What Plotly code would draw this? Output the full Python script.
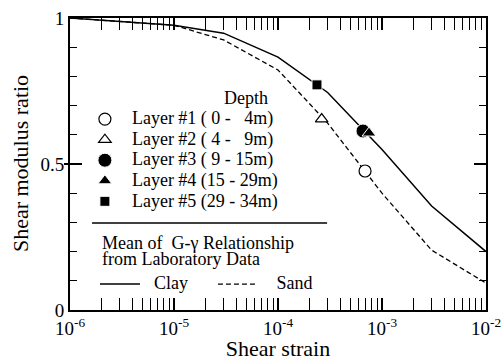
import plotly.graph_objects as go

# Mean G-gamma curves (laboratory data)
strain_pts = [1e-6, 1e-5, 3e-5, 1e-4, 3e-4, 1e-3, 3e-3, 1e-2]
clay_ratio = [1.0, 0.975, 0.948, 0.866, 0.745, 0.55, 0.356, 0.20]
sand_ratio = [1.0, 0.975, 0.925, 0.822, 0.64, 0.40, 0.205, 0.092]

# Layer data points
layer_names = ["Layer #1 (\u00a00 - \u00a0\u00a04m)",
               "Layer #2 (\u00a04 - \u00a0\u00a09m)",
               "Layer #3 (\u00a09 - 15m)",
               "Layer #4 (15 - 29m)",
               "Layer #5 (29 - 34m)"]
layer_strain = [6.87e-4, 2.63e-4, 6.56e-4, 7.5e-4, 2.37e-4]
layer_ratio = [0.476, 0.654, 0.613, 0.606, 0.771]

# tick labels
x_tickvals = [1e-6, 1e-5, 1e-4, 1e-3, 1e-2]
x_ticktext = ["10<sup>-6</sup>", "10<sup>-5</sup>", "10<sup>-4</sup>", "10<sup>-3</sup>", "10<sup>-2</sup>"]
y_tickvals = [0, 0.5, 1]
y_ticktext = ["0", "0.5", "1"]

FONT = "Liberation Serif, Times New Roman, serif"
BIG = 18

def big(t):
    return '<span style="font-size:%dpx">%s</span>' % (BIG, t)

fig = go.Figure()

fig.add_trace(go.Scatter(x=strain_pts, y=clay_ratio, mode="lines",
                         line=dict(color="black", width=1.5),
                         name=big("\u00a0\u00a0Clay"), legend="legend2"))
fig.add_trace(go.Scatter(x=strain_pts, y=sand_ratio, mode="lines",
                         line=dict(color="black", width=1.3, dash="5px,3px"),
                         name=big("\u00a0\u00a0\u00a0Sand"), legend="legend2"))

marker_styles = [
    dict(symbol="circle", size=12, color="white", line=dict(color="black", width=1.2)),
    dict(symbol="triangle-up", size=11, color="white", line=dict(color="black", width=1.2)),
    dict(symbol="circle", size=14, color="black", line=dict(color="white", width=1)),
    dict(symbol="triangle-up", size=12, color="black", line=dict(color="white", width=1)),
    dict(symbol="square", size=10, color="black", line=dict(color="white", width=1)),
]
for i in range(5):
    fig.add_trace(go.Scatter(x=[layer_strain[i]], y=[layer_ratio[i]], mode="markers",
                             marker=marker_styles[i], name=big(layer_names[i]),
                             legend="legend"))

# hidden helper trace for left outside stub axis
fig.add_trace(go.Scatter(x=[1e-6], y=[0.5], yaxis="y3", mode="markers",
                         marker=dict(opacity=0), showlegend=False, hoverinfo="skip"))

fig.update_layout(
    width=501, height=361,
    margin=dict(l=70, r=15, t=18, b=51),
    paper_bgcolor="white", plot_bgcolor="white",
    font=dict(family=FONT, color="black", size=19),
    xaxis=dict(type="log", range=[-6.00001, -1.99999], tickvals=x_tickvals, ticktext=x_ticktext,
               ticks="inside", ticklen=12, tickwidth=1.5, tickcolor="black",
               showline=True, linewidth=2, linecolor="black", mirror="allticks",
               showgrid=False, zeroline=False, automargin=False, ticklabeloverflow="allow",
               minor=dict(dtick="D1", ticks="inside", ticklen=6, tickwidth=1.2, tickcolor="black", showgrid=False),
               tickfont=dict(size=19, family=FONT),
               title=dict(text="Shear strain", font=dict(size=22, family=FONT))),
    yaxis=dict(range=[0, 1], tickvals=y_tickvals, ticktext=y_ticktext,
               ticks="inside", ticklen=12, tickwidth=1.5, tickcolor="black",
               showline=True, linewidth=2, linecolor="black", mirror="allticks",
               showgrid=False, zeroline=False, automargin=False,
               minor=dict(dtick=0.1, ticks="inside", ticklen=7, tickwidth=1.2, tickcolor="black", showgrid=False),
               tickfont=dict(size=19, family=FONT)),
    yaxis3=dict(overlaying="y", anchor="x", side="left", range=[0, 1], tickvals=[0.5],
                ticks="outside", ticklen=5, tickwidth=1.5, tickcolor="black", automargin=False,
                showticklabels=False, showline=False, showgrid=False, zeroline=False),
    legend=dict(x=0.019, y=0.706, xanchor="left", yanchor="top", font=dict(size=13.5, family=FONT),
                bgcolor="rgba(0,0,0,0)", itemwidth=44, tracegroupgap=0, traceorder="normal"),
    legend2=dict(x=0.06, y=0.14, xanchor="left", yanchor="top", orientation="h",
                 font=dict(size=13, family=FONT), bgcolor="rgba(0,0,0,0)",
                 entrywidth=63, entrywidthmode="pixels", itemwidth=40),
    showlegend=True,
)

fig.add_annotation(text="Shear modulus ratio", x=-0.12, y=0.5, xref="paper", yref="paper",
                   textangle=-90, showarrow=False, font=dict(size=22, family=FONT),
                   xanchor="center", yanchor="middle")
fig.add_annotation(text="Depth", x=0.423, y=0.726, xref="paper", yref="paper",
                   showarrow=False, font=dict(size=BIG, family=FONT), xanchor="center", yanchor="middle")
fig.add_annotation(text="Mean of \u00a0G-\u03b3 Relationship", x=0.072, y=0.229, xref="paper", yref="paper",
                   showarrow=False, font=dict(size=BIG, family=FONT), xanchor="left", yanchor="middle")
fig.add_annotation(text="from Laboratory Data", x=0.072, y=0.175, xref="paper", yref="paper",
                   showarrow=False, font=dict(size=BIG, family=FONT), xanchor="left", yanchor="middle")
fig.add_shape(type="line", xref="paper", yref="paper", x0=0.053, x1=0.618, y0=0.298, y1=0.298,
              line=dict(color="black", width=1.5))

fig.write_html("out.html", post_script="document.body.style.margin='0';",
               config={"displayModeBar": False})
